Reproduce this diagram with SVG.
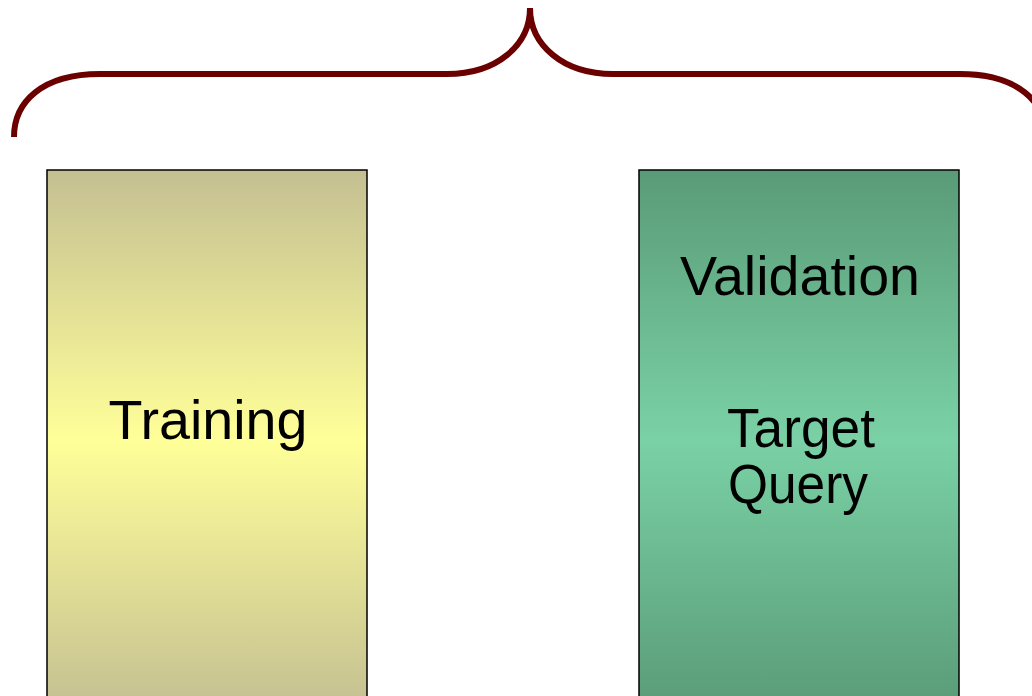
<svg xmlns="http://www.w3.org/2000/svg" width="1032" height="696" viewBox="0 0 1032 696">
  <defs>
    <linearGradient id="gy" x1="0" y1="0" x2="0" y2="1">
      <stop offset="0" stop-color="#c4bf92"/>
      <stop offset="0.5" stop-color="#ffff99"/>
      <stop offset="1" stop-color="#c4bf92"/>
    </linearGradient>
    <linearGradient id="gg" x1="0" y1="0" x2="0" y2="1">
      <stop offset="0" stop-color="#5a9b77"/>
      <stop offset="0.5" stop-color="#7ad1a5"/>
      <stop offset="1" stop-color="#5a9b77"/>
    </linearGradient>
    <style>
      .box { stroke: #000; stroke-width: 1.5; }
      .lbl { font-family: "Liberation Sans", "DejaVu Sans", sans-serif; font-size: 55px; fill: #000; text-anchor: middle; }
      .brace { fill: none; stroke: #6b0000; stroke-width: 6; }
    </style>
  </defs>
  <rect width="1032" height="696" fill="#fff"/>
  <g id="connectors">
    <path class="brace" d="M14,137 C14,102 42,74 100,74 L447,74 C497,74 530,45 530,8 C530,45 563,74 613,74 L960,74 C1018,74 1046,102 1046,137"/>
  </g>
  <g id="training">
    <rect class="box" x="47" y="170" width="320" height="540" fill="url(#gy)"/>
    <text class="lbl" x="208" y="439" textLength="199" lengthAdjust="spacingAndGlyphs">Training</text>
  </g>
  <g id="validation">
    <rect class="box" x="639" y="170" width="320" height="540" fill="url(#gg)"/>
    <text class="lbl" x="800" y="295" textLength="240" lengthAdjust="spacingAndGlyphs">Validation</text>
    <text class="lbl" x="801" y="447" textLength="148" lengthAdjust="spacingAndGlyphs">Target</text>
    <text class="lbl" x="798" y="503" textLength="140" lengthAdjust="spacingAndGlyphs">Query</text>
  </g>
</svg>
